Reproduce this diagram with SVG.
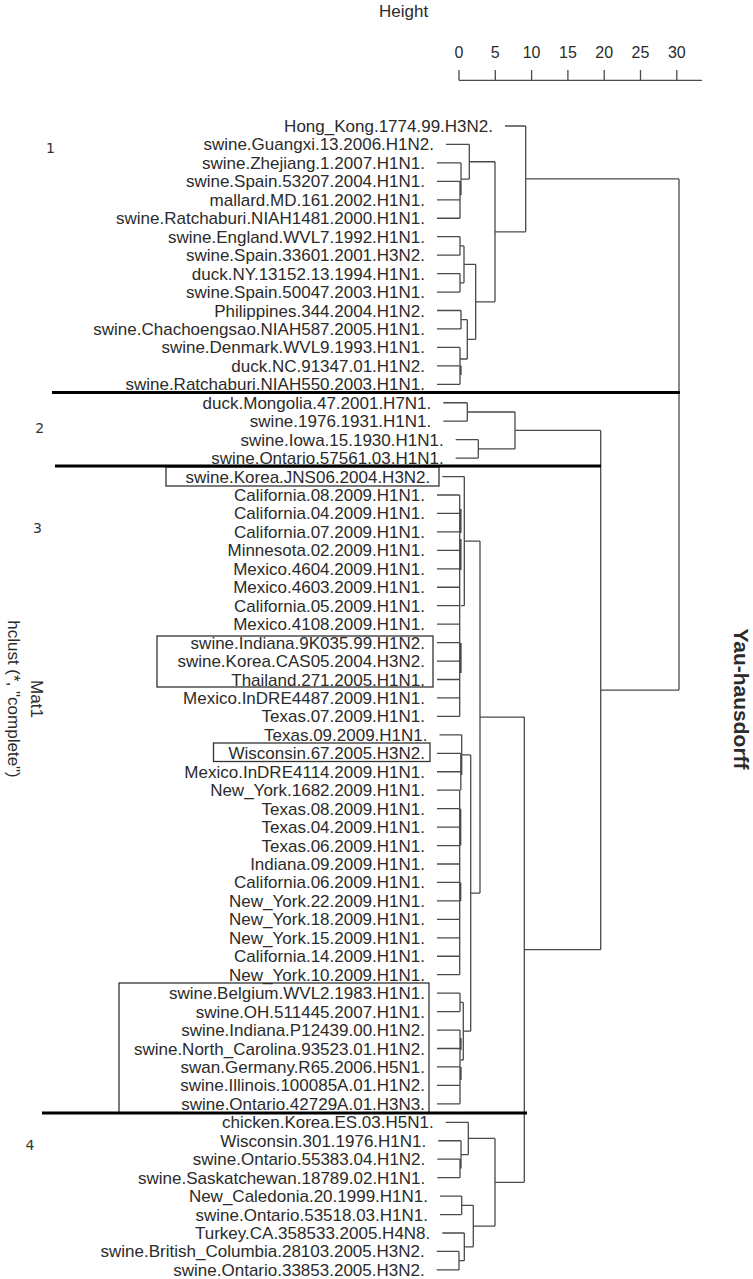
<svg xmlns="http://www.w3.org/2000/svg" width="753" height="1279" viewBox="0 0 753 1279">
<style>
text{font-family:"Liberation Sans",Arial,sans-serif;fill:#2b2b2b}
.lb{font-size:17px;text-anchor:end}
.ax{font-size:16px;text-anchor:middle}
.gn{font-family:"DejaVu Sans","Liberation Sans",sans-serif;font-size:14px;text-anchor:middle;fill:#333}
.rt{font-size:17px;text-anchor:middle}
.br{fill:none;stroke:#4a4a4a;stroke-width:1.3}
.tk{fill:none;stroke:#4a4a4a;stroke-width:2}
.sep{stroke:#000;stroke-width:3}
.box{fill:none;stroke:#333;stroke-width:1.3}
</style>
<rect width="753" height="1279" fill="#fff"/>
<g id="axis">
<text x="379" y="17" style="font-size:17px">Height</text>
<path class="br" d="M459 80.3H702M459 70V80.3M495.3 70V80.3M531.6 70V80.3M567.9 70V80.3M604.2 70V80.3M640.5 70V80.3M676.8 70V80.3"/>
<text class="ax" x="459" y="57.5">0</text>
<text class="ax" x="495.3" y="57.5">5</text>
<text class="ax" x="531.6" y="57.5">10</text>
<text class="ax" x="567.9" y="57.5">15</text>
<text class="ax" x="604.2" y="57.5">20</text>
<text class="ax" x="640.5" y="57.5">25</text>
<text class="ax" x="676.8" y="57.5">30</text>
</g>
<g id="titles">
<text transform="translate(734,699) rotate(90)" style="font-size:21px;font-weight:bold;text-anchor:middle">Yau-hausdorff</text>
<text class="rt" transform="translate(31,699) rotate(90)">Mat1</text>
<text class="rt" transform="translate(7.5,699) rotate(90)">hclust (*, &quot;complete&quot;)</text>
</g>
<g id="group-numbers">
<text class="gn" x="50.5" y="153">1</text>
<text class="gn" x="39.6" y="433">2</text>
<text class="gn" x="37.4" y="533">3</text>
<text class="gn" x="30" y="1150">4</text>
</g>
<g id="boxes">
<rect class="box" x="166" y="467" width="273" height="19"/>
<rect class="box" x="157" y="636" width="276" height="51"/>
<rect class="box" x="213.5" y="743" width="216.5" height="18.5"/>
<rect class="box" x="119" y="983" width="310" height="130"/>
</g>
<g id="connectors">
<path class="br" d="M505 126H525.7M446 144.45H469.3M437 162.9H461M437 181.35H460M437 199.8H460M437 218.25H460M437 236.7H460M437 255.15H460M437 273.6H460M437 292.05H460M437 310.5H461M437 328.95H461M437 347.4H460M437 365.85H460M437 384.3H460
M460 181.35V218.25M461 162.9V195.2M461 179.05H469.3M469.3 144.45V179.05M469.3 161.75H495
M460 236.7V255.15M460 245.9H464M460 273.6V292.05M460 282.8H464M464 245.9V282.8M464 264.35H475.7
M461 310.5V328.95M461 319.7H467.3M460 347.4V384.3M461 365.85V375M460 359H467.3M467.3 319.7V359M467.3 339.35H475.7
M475.7 264.35V339.35M475.7 301.85H495M495 161.75V301.85M495 231.8H525.7M525.7 126V231.8M525.7 178.9H679M679 178.9V690.07"/>
<path class="br" d="M443.3 402.75H467.3M443.3 421.2H467.3M467.3 402.75V421.2M467.3 411.98H515M455.7 439.65H478.3M455.7 458.1H478.3M478.3 439.65V458.1M478.3 448.88H515M515 411.98V448.88M515 430.43H600.7M600.7 430.43V949.7M600.7 690.07H679"/>
<path class="br" d="M442.3 476.55H464.3M437 495H459.7M437 513.45H459.7M437 531.9H459.7M437 550.35H459.7M437 568.8H459.7M437 587.25H459.7M437 605.7H459.7M437 624.15H459.7M437 642.6H459.7M437 661.05H459.7M437 679.5H459.7M437 697.95H459.7M437 716.4H459.7
M459.7 495V716.4M460.9 509V533M460.9 539V570M461 643V673M461 605.7H464.3M464.3 476.55V605.7M464.3 541.1H480
M439.5 734.85H461.7M461.7 734.85V775M461.7 754.9H470.7M437 753.3H460.8M437 771.75H460.8M460.8 753.3V790.2
M437 790.2H459.7M437 808.65H459.7M437 827.1H459.7M437 845.55H459.7M437 864H459.7M437 882.45H459.7M437 900.9H459.7M437 919.35H459.7M437 937.8H459.7M437 956.25H459.7M437 974.7H459.7
M459.7 790.2V974.7M460.7 808.65V845.55M460.7 882.45V900.9
M437 993.15H460M437 1011.6H460M437 1030.05H460M437 1048.5H460M437 1066.95H460M437 1085.4H460M437 1103.85H460
M460 993.15V1011.6M460 1002.4H463.3M460 1030.05V1103.85M461 1038V1050M461 1066.95V1080M461 1060H463.3M463.3 1002.4V1060M463.3 1031.2H470.7
M470.7 754.9V1031.2M470.7 893.05H480M480 541.1V893.05M480 717.1H524.3"/>
<path class="br" d="M445.7 1122.3H468.3M438.3 1140.75H461M437.3 1159.2H460M437.3 1177.65H460M460 1159.2V1177.65M461 1140.75V1168.4M461 1154.6H468.3M468.3 1122.3V1154.6M468.3 1138.45H495
M440 1196.1H461.7M440 1214.55H461.7M461.7 1196.1V1214.55M461.7 1205.3H473.3M442.3 1233H464.3M436.7 1251.45H459M436.7 1269.9H459M459 1251.45V1269.9M459 1260.7H464.3M464.3 1233V1260.7M464.3 1246.85H473.3M473.3 1205.3V1246.85M473.3 1226.1H495M495 1138.45V1226.1M495 1182.3H524.3M524.3 717.1V1182.3M524.3 949.7H600.7"/>
</g>
<g id="cuts">
<line class="sep" x1="52" y1="392.5" x2="680" y2="392.5"/>
<line class="sep" x1="55" y1="466" x2="601" y2="466"/>
<line class="sep" x1="42" y1="1113" x2="527" y2="1113"/>
</g>
<g id="leaves">
<g id="n0"><text class="lb" x="493" y="132">Hong_Kong.1774.99.H3N2.</text></g>
<g id="n1"><text class="lb" x="434" y="150.45">swine.Guangxi.13.2006.H1N2.</text></g>
<g id="n2"><text class="lb" x="425" y="168.9">swine.Zhejiang.1.2007.H1N1.</text></g>
<g id="n3"><text class="lb" x="425" y="187.35">swine.Spain.53207.2004.H1N1.</text></g>
<g id="n4"><text class="lb" x="425" y="205.8">mallard.MD.161.2002.H1N1.</text></g>
<g id="n5"><text class="lb" x="425" y="224.25">swine.Ratchaburi.NIAH1481.2000.H1N1.</text></g>
<g id="n6"><text class="lb" x="425" y="242.7">swine.England.WVL7.1992.H1N1.</text></g>
<g id="n7"><text class="lb" x="425" y="261.15">swine.Spain.33601.2001.H3N2.</text></g>
<g id="n8"><text class="lb" x="425" y="279.6">duck.NY.13152.13.1994.H1N1.</text></g>
<g id="n9"><text class="lb" x="425" y="298.05">swine.Spain.50047.2003.H1N1.</text></g>
<g id="n10"><text class="lb" x="425" y="316.5">Philippines.344.2004.H1N2.</text></g>
<g id="n11"><text class="lb" x="425" y="334.95">swine.Chachoengsao.NIAH587.2005.H1N1.</text></g>
<g id="n12"><text class="lb" x="425" y="353.4">swine.Denmark.WVL9.1993.H1N1.</text></g>
<g id="n13"><text class="lb" x="425" y="371.85">duck.NC.91347.01.H1N2.</text></g>
<g id="n14"><text class="lb" x="425" y="390.3">swine.Ratchaburi.NIAH550.2003.H1N1.</text></g>
<g id="n15"><text class="lb" x="431.3" y="408.75">duck.Mongolia.47.2001.H7N1.</text></g>
<g id="n16"><text class="lb" x="431.3" y="427.2">swine.1976.1931.H1N1.</text></g>
<g id="n17"><text class="lb" x="443.7" y="445.65">swine.Iowa.15.1930.H1N1.</text></g>
<g id="n18"><text class="lb" x="443.7" y="464.1">swine.Ontario.57561.03.H1N1.</text></g>
<g id="n19"><text class="lb" x="430.3" y="482.55">swine.Korea.JNS06.2004.H3N2.</text></g>
<g id="n20"><text class="lb" x="425" y="501">California.08.2009.H1N1.</text></g>
<g id="n21"><text class="lb" x="425" y="519.45">California.04.2009.H1N1.</text></g>
<g id="n22"><text class="lb" x="425" y="537.9">California.07.2009.H1N1.</text></g>
<g id="n23"><text class="lb" x="425" y="556.35">Minnesota.02.2009.H1N1.</text></g>
<g id="n24"><text class="lb" x="425" y="574.8">Mexico.4604.2009.H1N1.</text></g>
<g id="n25"><text class="lb" x="425" y="593.25">Mexico.4603.2009.H1N1.</text></g>
<g id="n26"><text class="lb" x="425" y="611.7">California.05.2009.H1N1.</text></g>
<g id="n27"><text class="lb" x="425" y="630.15">Mexico.4108.2009.H1N1.</text></g>
<g id="n28"><text class="lb" x="425" y="648.6">swine.Indiana.9K035.99.H1N2.</text></g>
<g id="n29"><text class="lb" x="425" y="667.05">swine.Korea.CAS05.2004.H3N2.</text></g>
<g id="n30"><text class="lb" x="425" y="685.5">Thailand.271.2005.H1N1.</text></g>
<g id="n31"><text class="lb" x="425" y="703.95">Mexico.InDRE4487.2009.H1N1.</text></g>
<g id="n32"><text class="lb" x="425" y="722.4">Texas.07.2009.H1N1.</text></g>
<g id="n33"><text class="lb" x="427.5" y="740.85">Texas.09.2009.H1N1.</text></g>
<g id="n34"><text class="lb" x="425" y="759.3">Wisconsin.67.2005.H3N2.</text></g>
<g id="n35"><text class="lb" x="425" y="777.75">Mexico.InDRE4114.2009.H1N1.</text></g>
<g id="n36"><text class="lb" x="425" y="796.2">New_York.1682.2009.H1N1.</text></g>
<g id="n37"><text class="lb" x="425" y="814.65">Texas.08.2009.H1N1.</text></g>
<g id="n38"><text class="lb" x="425" y="833.1">Texas.04.2009.H1N1.</text></g>
<g id="n39"><text class="lb" x="425" y="851.55">Texas.06.2009.H1N1.</text></g>
<g id="n40"><text class="lb" x="425" y="870">Indiana.09.2009.H1N1.</text></g>
<g id="n41"><text class="lb" x="425" y="888.45">California.06.2009.H1N1.</text></g>
<g id="n42"><text class="lb" x="425" y="906.9">New_York.22.2009.H1N1.</text></g>
<g id="n43"><text class="lb" x="425" y="925.35">New_York.18.2009.H1N1.</text></g>
<g id="n44"><text class="lb" x="425" y="943.8">New_York.15.2009.H1N1.</text></g>
<g id="n45"><text class="lb" x="425" y="962.25">California.14.2009.H1N1.</text></g>
<g id="n46"><text class="lb" x="425" y="980.7">New_York.10.2009.H1N1.</text></g>
<g id="n47"><text class="lb" x="425" y="999.15">swine.Belgium.WVL2.1983.H1N1.</text></g>
<g id="n48"><text class="lb" x="425" y="1017.6">swine.OH.511445.2007.H1N1.</text></g>
<g id="n49"><text class="lb" x="425" y="1036.05">swine.Indiana.P12439.00.H1N2.</text></g>
<g id="n50"><text class="lb" x="425" y="1054.5">swine.North_Carolina.93523.01.H1N2.</text></g>
<g id="n51"><text class="lb" x="425" y="1072.95">swan.Germany.R65.2006.H5N1.</text></g>
<g id="n52"><text class="lb" x="425" y="1091.4">swine.Illinois.100085A.01.H1N2.</text></g>
<g id="n53"><text class="lb" x="425" y="1109.85">swine.Ontario.42729A.01.H3N3.</text></g>
<g id="n54"><text class="lb" x="433.7" y="1128.3">chicken.Korea.ES.03.H5N1.</text></g>
<g id="n55"><text class="lb" x="426.3" y="1146.75">Wisconsin.301.1976.H1N1.</text></g>
<g id="n56"><text class="lb" x="425.3" y="1165.2">swine.Ontario.55383.04.H1N2.</text></g>
<g id="n57"><text class="lb" x="425.3" y="1183.65">swine.Saskatchewan.18789.02.H1N1.</text></g>
<g id="n58"><text class="lb" x="428" y="1202.1">New_Caledonia.20.1999.H1N1.</text></g>
<g id="n59"><text class="lb" x="428" y="1220.55">swine.Ontario.53518.03.H1N1.</text></g>
<g id="n60"><text class="lb" x="430.3" y="1239">Turkey.CA.358533.2005.H4N8.</text></g>
<g id="n61"><text class="lb" x="424.7" y="1257.45">swine.British_Columbia.28103.2005.H3N2.</text></g>
<g id="n62"><text class="lb" x="424.7" y="1275.9">swine.Ontario.33853.2005.H3N2.</text></g>
</g>
</svg>
